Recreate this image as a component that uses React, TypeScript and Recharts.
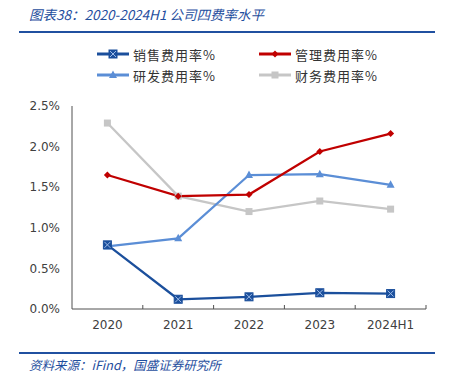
import React from "react";
import { LineChart, Line, XAxis, YAxis } from "recharts";

const years = ["2020", "2021", "2022", "2023", "2024H1"];
const salesRate = [0.79, 0.12, 0.15, 0.2, 0.19];
const adminRate = [1.65, 1.39, 1.41, 1.94, 2.16];
const rdRate = [0.77, 0.87, 1.65, 1.66, 1.53];
const financeRate = [2.29, 1.39, 1.2, 1.33, 1.23];
const yTicks = [0, 0.5, 1.0, 1.5, 2.0, 2.5];

const seriesNames = ["销售费用率%", "管理费用率%", "研发费用率%", "财务费用率%"];
const seriesColors = ["#1B4F9C", "#C00000", "#5B8ED6", "#C6C6C6"];

const data = years.map((year, i) => ({
  year,
  sales: salesRate[i],
  admin: adminRate[i],
  rd: rdRate[i],
  finance: financeRate[i],
}));

const CHART_W = 452;
const CHART_H = 345;
const MARGIN = { top: 106, right: 26, left: 12, bottom: 6 };
const Y_W = 60;
const X_H = 30;
const TICK_MARGIN = 5;
const BAND = (CHART_W - MARGIN.left - MARGIN.right - Y_W) / years.length;

const blueText = "#1F4E9E";
const axisColor = "#505050";
const cjk = '"Noto Sans CJK SC", sans-serif';

function Marker({ kind, cx, cy }: { kind: number; cx: number; cy: number }) {
  if (kind === 0) {
    return (
      <g>
        <rect x={cx - 4} y={cy - 4} width={8} height={8} fill="#1B4F9C" stroke="#1B4F9C" />
        <path d={`M${cx - 3} ${cy - 3}L${cx + 3} ${cy + 3}M${cx + 3} ${cy - 3}L${cx - 3} ${cy + 3}`} stroke="#9DBBE8" strokeWidth={1} />
      </g>
    );
  }
  if (kind === 1) {
    return <path d={`M${cx} ${cy - 3.5}L${cx + 3.5} ${cy}L${cx} ${cy + 3.5}L${cx - 3.5} ${cy}Z`} fill="#C00000" />;
  }
  if (kind === 2) {
    return <path d={`M${cx} ${cy - 4.5}L${cx + 4} ${cy + 3}L${cx - 4} ${cy + 3}Z`} fill="#5B8ED6" />;
  }
  return <rect x={cx - 3.5} y={cy - 3.5} width={7} height={7} fill="#C6C6C6" />;
}

const dotFor = (kind: number) => (props: any) => (
  <Marker key={`${kind}-${props.index}`} kind={kind} cx={props.cx} cy={props.cy} />
);

function XTick(props: any) {
  const { x, y, payload } = props;
  const axisY = y - 6 - TICK_MARGIN;
  return (
    <g>
      <line x1={x + BAND / 2} x2={x + BAND / 2} y1={axisY} y2={axisY - 4} stroke={axisColor} />
      <text x={x} y={y} dy="0.71em" textAnchor="middle" fill="#404040" fontSize={12} fontFamily='"DejaVu Sans", sans-serif'>
        {payload.value}
      </text>
    </g>
  );
}

function LegendItem({ kind }: { kind: number }) {
  return (
    <div style={{ display: "flex", alignItems: "center", height: 18 }}>
      <svg width={32} height={12} style={{ marginRight: 4 }}>
        <line x1={0} x2={32} y1={6} y2={6} stroke={seriesColors[kind]} strokeWidth={3} />
        <Marker kind={kind} cx={16} cy={6} />
      </svg>
      <span style={{ fontSize: 13, letterSpacing: 1, color: "#333", fontFamily: cjk }}>{seriesNames[kind]}</span>
    </div>
  );
}

export default function App() {
  return (
    <div style={{ position: "absolute", left: 0, top: 0, width: 452, height: 385, background: "#fff", overflow: "hidden" }}>
      <div
        style={{
          position: "absolute",
          left: 29,
          top: 4,
          fontSize: 13.5,
          fontStyle: "italic",
          color: blueText,
          fontFamily: cjk,
          whiteSpace: "nowrap",
        }}
      >
        图表38：2020-2024H1 公司四费率水平
      </div>
      <div style={{ position: "absolute", left: 19, top: 31, width: 416, height: 2, background: "#2050A0" }} />

      <div style={{ position: "absolute", left: 97, top: 45 }}>
        <LegendItem kind={0} />
      </div>
      <div style={{ position: "absolute", left: 259, top: 45 }}>
        <LegendItem kind={1} />
      </div>
      <div style={{ position: "absolute", left: 97, top: 66 }}>
        <LegendItem kind={2} />
      </div>
      <div style={{ position: "absolute", left: 259, top: 66 }}>
        <LegendItem kind={3} />
      </div>

      <div style={{ position: "absolute", left: 0, top: 0 }}>
        <LineChart width={CHART_W} height={CHART_H} data={data} margin={MARGIN}>
          <XAxis
            dataKey="year"
            height={X_H}
            stroke={axisColor}
            tickLine={false}
            tickMargin={TICK_MARGIN}
            padding={{ left: BAND / 2, right: BAND / 2 }}
            tick={<XTick />}
          />
          <YAxis
            width={Y_W}
            domain={[0, 2.5]}
            ticks={yTicks}
            stroke={axisColor}
            tickLine={false}
            tickMargin={6}
            tick={{ fill: "#404040", fontSize: 12, fontFamily: '"DejaVu Sans", sans-serif' }}
            tickFormatter={(v: number) => v.toFixed(1) + "%"}
          />
          <Line dataKey="finance" stroke={seriesColors[3]} strokeWidth={2.25} dot={dotFor(3)} isAnimationActive={false} />
          <Line dataKey="rd" stroke={seriesColors[2]} strokeWidth={2.25} dot={dotFor(2)} isAnimationActive={false} />
          <Line dataKey="admin" stroke={seriesColors[1]} strokeWidth={2.25} dot={dotFor(1)} isAnimationActive={false} />
          <Line dataKey="sales" stroke={seriesColors[0]} strokeWidth={2.25} dot={dotFor(0)} isAnimationActive={false} />
        </LineChart>
      </div>

      <div style={{ position: "absolute", left: 19, top: 352, width: 416, height: 2, background: "#2050A0" }} />
      <div
        style={{
          position: "absolute",
          left: 29,
          top: 355,
          fontSize: 12.5,
          fontStyle: "italic",
          color: blueText,
          fontFamily: cjk,
          whiteSpace: "nowrap",
        }}
      >
        资料来源：iFind，国盛证券研究所
      </div>
    </div>
  );
}
